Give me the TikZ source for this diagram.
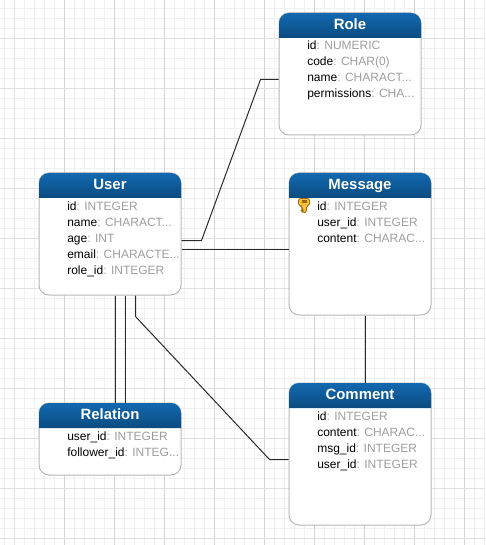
\documentclass[tikz,border=0pt]{standalone}
\usepackage{fontspec}
\setmainfont{Liberation Sans}
\usetikzlibrary{calc}
\definecolor{gridminor}{HTML}{F0F0F0}
\definecolor{gridmajor}{HTML}{E0E0E0}
\definecolor{gridstrong}{HTML}{D4D4D4}
\definecolor{frameC}{HTML}{B8B8B8}
\definecolor{headtop}{HTML}{1268AF}
\definecolor{headbot}{HTML}{0B4C80}
\definecolor{typeC}{HTML}{9E9E9E}
\definecolor{linkC}{HTML}{2A2A2A}
\definecolor{keyfill}{HTML}{F5C33B}
\definecolor{keyline}{HTML}{9A6A08}
\tikzset{
  x=0.75pt,y=-0.75pt,
  minorline/.style={draw=gridminor,line width=0.75pt},
  majorline/.style={draw=gridmajor,line width=0.75pt},
  strongline/.style={draw=gridstrong,line width=0.75pt},
  entitybox/.style={draw=frameC,fill=white,line width=0.75pt,rounded corners=7.5pt,rectangle,minimum height=0pt,inner sep=0pt},
  headtext/.style={text=white,font=\fontsize{11.2}{13}\selectfont\bfseries,anchor=base},
  attr/.style={anchor=base west,inner sep=0pt,font=\fontsize{9}{11}\selectfont},
  link/.style={draw=linkC,line width=0.75pt}
}
\newcommand{\entity}[6]{% name, x0, y0, x1, y1, title
  \node[entitybox,minimum width={(#4-#2)*0.75pt},minimum height={(#5-#3)*0.75pt}] (#1) at ({(#2+#4)/2},{(#3+#5)/2}) {};
  \shade[top color=headtop,bottom color=headbot] (#2,#3+25) [rounded corners=7.5pt] -- (#2,#3) -- (#4,#3) [sharp corners] -- (#4,#3+25) -- cycle;
  \node[headtext] (#1-title) at ({(#2+#4)/2},#3+16.8) {#6};
}
\newcommand{\attrow}[5]{% id, x, baseline, name, type
  \node[attr] (#1) at (#2,#3) {#4\textcolor{typeC}{: #5}};
}
\begin{document}
\begin{tikzpicture}
\useasboundingbox (0,0) rectangle (485,545);
\fill[white] (0,0) rectangle (485,545);
\foreach \i in {4,14,...,484} \draw[minorline] (\i.5,0) -- (\i.5,545);
\foreach \i in {8,18,...,538} \draw[minorline] (0,\i.5) -- (485,\i.5);
\draw[majorline] (14.5,0) -- (14.5,545);
\foreach \i in {64,114,...,464} \draw[strongline] (\i.5,0) -- (\i.5,545);
\foreach \i in {38,88,...,538} \draw[majorline] (0,\i.5) -- (485,\i.5);

\entity{role}{279}{13}{421}{135}{Role}
\entity{message}{289}{173}{431}{315}{Message}
\entity{user}{39}{173}{181}{295}{User}
\entity{relation}{39}{403}{181}{475}{Relation}
\entity{comment}{289}{383}{431}{525}{Comment}

\coordinate (ur1) at (201.5,240.5);
\coordinate (ur2) at (260.5,79.5);
\coordinate (um) at (200,249.5);
\coordinate (rel1) at (115.5,350);
\coordinate (rel2) at (125.5,350);
\coordinate (uc0) at (135.5,316.5);
\coordinate (uc1) at (269.5,459.5);
\coordinate (mc) at (365.5,350);
\draw[link] (user.east |- ur1) -- (ur1) -- (ur2) -- (role.west |- ur2);
\draw[link] (user.east |- um) -- (message.west |- um);
\draw[link] (user.south -| rel1) -- (relation.north -| rel1);
\draw[link] (user.south -| rel2) -- (relation.north -| rel2);
\draw[link] (user.south -| uc0) -- (uc0) -- (uc1) -- (comment.west |- uc1);
\draw[link] (message.south -| mc) -- (comment.north -| mc);

\attrow{role-a1}{307}{50}{id}{NUMERIC}
\attrow{role-a2}{307}{66}{code}{CHAR(0)}
\attrow{role-a3}{307}{82}{name}{CHARACT...}
\attrow{role-a4}{307}{98}{permissions}{CHA...}

\attrow{msg-a1}{317}{210}{id}{INTEGER}
\attrow{msg-a2}{317}{226}{user\_id}{INTEGER}
\attrow{msg-a3}{317}{242}{content}{CHARAC...}

\attrow{user-a1}{67}{210}{id}{INTEGER}
\attrow{user-a2}{67}{226}{name}{CHARACT...}
\attrow{user-a3}{67}{242}{age}{INT}
\attrow{user-a4}{67}{258}{email}{CHARACTE...}
\attrow{user-a5}{67}{274}{role\_id}{INTEGER}

\attrow{rel-a1}{67}{440}{user\_id}{INTEGER}
\attrow{rel-a2}{67}{456}{follower\_id}{INTEG...}

\attrow{com-a1}{317}{420}{id}{INTEGER}
\attrow{com-a2}{317}{436}{content}{CHARAC...}
\attrow{com-a3}{317}{452}{msg\_id}{INTEGER}
\attrow{com-a4}{317}{468}{user\_id}{INTEGER}

% key icon
\filldraw[fill=keyfill,draw=keyline,line width=0.6pt,rounded corners=1.2pt]
  (298.5,198.5) -- (309.5,198.5) -- (309.5,205.5) -- (306.5,205.5) -- (306.5,212.5)
  -- (303,212.5) -- (301.5,211) -- (303,209.5) -- (301.5,208) -- (301.5,205.5) -- (298.5,205.5) -- cycle;
\fill[keyline] (301.5,200.5) rectangle (306.5,202.5);
\end{tikzpicture}
\end{document}
